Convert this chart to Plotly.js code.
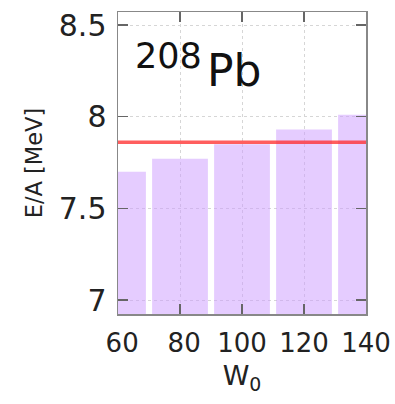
<!DOCTYPE html>
<html>
<head>
<meta charset="utf-8">
<script src="https://cdn.plot.ly/plotly-3.0.1.min.js"></script>
<style>html,body{margin:0;padding:0;background:#fff;}#chart{width:395px;height:404px;}</style>
</head>
<body>
<div id="chart"></div>
<script>
var w0 = [60, 80, 100, 120, 140];
var energyPerA = [7.70, 7.77, 7.85, 7.93, 8.01];
var refEnergy = 7.86;
var xTicks = [60, 80, 100, 120, 140];
var xTickText = ['\u00a060', '\u00a080', '100', '120', '140'];
var yTicks = [7, 7.5, 8, 8.5];
var yTickText = ['7', '7.5', '8', '8.5'];

var FONT = 'DejaVu Sans, Verdana, sans-serif';

var bars = {
  type: 'bar',
  x: w0,
  y: energyPerA,
  width: 18,
  marker: {color: 'rgba(204,153,255,0.5)', line: {width: 0}},
  hoverinfo: 'x+y'
};
var refLine = {
  type: 'scatter',
  mode: 'lines',
  x: [xTicks[0], xTicks[xTicks.length - 1]],
  y: [refEnergy, refEnergy],
  line: {color: 'rgba(255,40,40,0.75)', width: 3.5}
};

var layout = {
  width: 395,
  height: 404,
  margin: {l: 118, r: 29, t: 12, b: 90},
  paper_bgcolor: '#fff',
  plot_bgcolor: '#fff',
  showlegend: false,
  font: {family: FONT, color: '#222'},
  xaxis: {
    range: [60, 140],
    tickvals: xTicks,
    ticktext: xTickText,
    ticks: 'inside',
    ticklen: 10,
    tickwidth: 1.5,
    tickcolor: '#666',
    mirror: 'ticks',
    showline: true,
    linecolor: '#888',
    linewidth: 1.5,
    showgrid: true,
    gridcolor: '#d6d6d6',
    griddash: 'dot',
    gridwidth: 1,
    zeroline: false,
    tickfont: {size: 26, family: FONT, color: '#222'},
    ticklabelstandoff: 5,
    title: {text: 'W<sub>0</sub>', font: {size: 27, family: FONT, color: '#222'}, standoff: 9}
  },
  yaxis: {
    range: [6.924, 8.571],
    tickvals: yTicks,
    ticktext: yTickText,
    ticks: 'inside',
    ticklen: 10,
    tickwidth: 1.5,
    tickcolor: '#666',
    mirror: 'ticks',
    showline: true,
    linecolor: '#888',
    linewidth: 1.5,
    showgrid: true,
    gridcolor: '#d6d6d6',
    griddash: 'dot',
    gridwidth: 1,
    zeroline: false,
    tickfont: {size: 30, family: FONT, color: '#222'},
    ticklabelstandoff: 4,
    title: {text: 'E/A [MeV]', font: {size: 22.5, family: FONT, color: '#222'}, standoff: 10}
  },
  annotations: [
    {xref: 'paper', yref: 'paper', x: 0.06, y: 0.78, xanchor: 'left', yanchor: 'bottom',
     text: '208', showarrow: false, font: {size: 35, family: FONT, color: '#111'}},
    {xref: 'paper', yref: 'paper', x: 0.35, y: 0.715, xanchor: 'left', yanchor: 'bottom',
     text: 'Pb', showarrow: false, font: {size: 44, family: FONT, color: '#111'}}
  ]
};

Plotly.newPlot('chart', [bars, refLine], layout, {displayModeBar: false, staticPlot: true});
</script>
</body>
</html>
